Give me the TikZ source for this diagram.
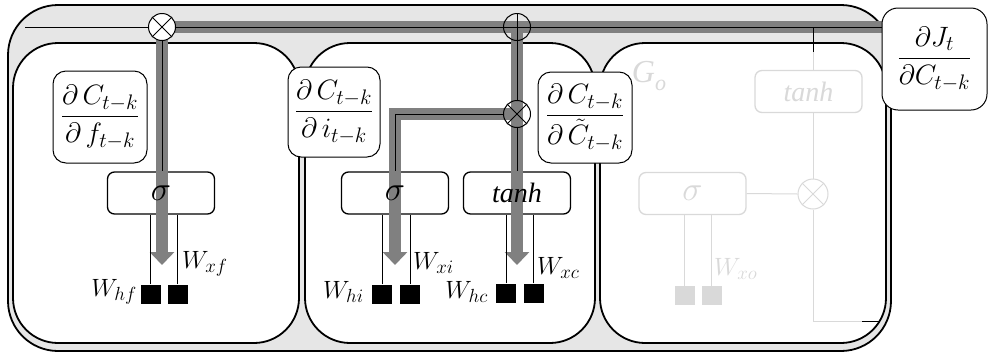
\RequirePackage{fix-cm}
\documentclass[tikz,border=0pt]{standalone}
\usepackage{fontspec}
\usepackage{amsmath}
\newfontfamily\timesfont{Liberation Serif}[ItalicFont={Liberation Serif Italic}]
\usetikzlibrary{arrows.meta}
\definecolor{bggray}{HTML}{E6E6E6}
\definecolor{bandgray}{HTML}{808080}
\definecolor{fadegray}{HTML}{D9D9D9}
\DeclareMathSizes{28}{28}{21}{16}
\DeclareMathSizes{25}{25}{19}{14}
\DeclareMathSizes{34}{34}{25}{18}
\begin{document}
\begin{tikzpicture}[x=1pt,y=-1pt,
  cell/.style={draw, fill=white, line width=1.8pt, rounded corners=45pt},
  fbox/.style={draw, rounded corners=7pt, line width=1.3pt, minimum width=107pt, minimum height=42pt, inner sep=0pt, fill=white},
  op/.style={circle, draw, line width=1pt, minimum size=27pt, inner sep=0pt},
  lblbox/.style={draw, rounded corners=13pt, fill=white, line width=1pt, inner sep=0pt, font=\fontsize{28}{32}\selectfont},
  wsq/.style={fill=black, minimum width=20pt, minimum height=19pt, inner sep=0pt},
  band/.style={line width=12pt, draw=bandgray},
  garrow/.style={-{Triangle[width=24pt,length=13pt]}},
  wire/.style={line width=1pt},
  fwire/.style={line width=1pt, draw=fadegray},
  wlab/.style={font=\fontsize{25}{28}\selectfont, inner sep=0pt},
  sig/.style={font=\fontsize{34}{36}\selectfont, inner sep=0pt},
  tnh/.style={font=\timesfont\fontsize{28}{32}\selectfont\itshape, inner sep=0pt}
]
\useasboundingbox (0,0) rectangle (988,354);
% outer cell
\draw[line width=1.8pt, fill=bggray, rounded corners=50pt] (8,5) rectangle (891,351);
% gate boxes
\draw[cell] (13,43) rectangle (299,343);
\draw[cell] (305,43) rectangle (595,343);
\draw[cell] (600,43) rectangle (886,343);
% function boxes
\node[fbox] (s1) at (161,193) {};
\node[fbox] (s2) at (395,193) {};
\node[fbox] (t2) at (517,193) {};
% operator positions
\coordinate (pf) at (162,27);
\coordinate (pp) at (517,27);
\coordinate (pm) at (517,114);
\coordinate (cl) at (25,27);
\coordinate (cr) at (882,27);
% gradient bands
\draw[band] (175,27) -- (cr);
\draw[band,garrow] (162,34) -- (162,265);
\draw[band,garrow] (pp) -- (517,265);
\draw[band,garrow,line join=miter] (pm) -- (395,114) -- (395,265);
% cell state wire
\draw[wire] (cl) -- (cr);
% operators
\node[op, fill=white] (fm) at (pf) {};
\draw[line width=1pt] (fm.north east) -- (fm.south west) (fm.north west) -- (fm.south east);
\node[op] (ap) at (pp) {};
\draw[line width=1pt] (ap.north) -- (ap.south) (ap.west) -- (ap.east);
\node[op] (im) at (pm) {};
\draw[line width=1pt] (im.north east) -- (im.south west) (im.north west) -- (im.south east);
% wires
\draw[wire] (fm.south) -- (fm.south |- s1.north);
\draw[wire] (ap.south) -- (im.north);
\draw[wire] (im.south) -- (im.south |- t2.north);
\draw[wire] (im.west) -| (s2.north);
% function labels
\node[sig] (s1t) at (s1) {$\sigma$};
\node[sig] (s2t) at (s2) {$\sigma$};
\node[tnh] (t2t) at (t2) {tanh};
% weights
\node[wsq] (qhf) at (150.5,294) {};
\node[wsq] (qxf) at (177.5,294) {};
\node[wsq] (qhi) at (382,294) {};
\node[wsq] (qxi) at (410,294) {};
\node[wsq] (qhc) at (506,293) {};
\node[wsq] (qxc) at (533.5,293) {};
\draw[wire] (qhf.north) -- (qhf.north |- s1.south);
\draw[wire] (qxf.north) -- (qxf.north |- s1.south);
\draw[wire] (qhi.north) -- (qhi.north |- s2.south);
\draw[wire] (qxi.north) -- (qxi.north |- s2.south);
\draw[wire] (qhc.north) -- (qhc.north |- t2.south);
\draw[wire] (qxc.north) -- (qxc.north |- t2.south);
\node[wlab, anchor=east] (whf) at (137,292) {$W_{hf}$};
\node[wlab, anchor=west] (wxf) at (182,264) {$W_{xf}$};
\node[wlab, anchor=east] (whi) at (364,292) {$W_{hi}$};
\node[wlab, anchor=west] (wxi) at (413,263) {$W_{xi}$};
\node[wlab, anchor=east] (whc) at (488,292) {$W_{hc}$};
\node[wlab, anchor=west] (wxc) at (537,268) {$W_{xc}$};
% output gate (faded)
\node[fbox, draw=fadegray] (s3) at (692.5,193.5) {};
\node[fbox, draw=fadegray] (t3) at (808.5,91.5) {};
\node[sig, text=fadegray] (s3t) at (s3) {$\sigma$};
\node[tnh, text=fadegray] (t3t) at (t3) {tanh};
\node[op, draw=fadegray, minimum size=30pt] (om) at (813,194) {};
\draw[line width=1pt, fadegray] (om.north east) -- (om.south west) (om.north west) -- (om.south east);
\coordinate (ot) at (813,27);
\coordinate (ob) at (813,52);
\coordinate (oc) at (813,321);
\coordinate (od) at (862,321);
\coordinate (oe) at (880,321);
\draw[wire] (ot) -- (ob);
\draw[fwire] (ob) -- (ob |- t3.north);
\draw[fwire] (om.north |- t3.south) -- (om.north);
\draw[fwire] (om.south) -- (oc) -- (od);
\draw[wire] (od) -- (oe);
\draw[fwire] (s3.east) -- (om.west);
\node[wsq, fill=fadegray] (qho) at (684.5,295.5) {};
\node[wsq, fill=fadegray] (qxo) at (711.5,295.5) {};
\draw[fwire] (qho.north) -- (qho.north |- s3.south);
\draw[fwire] (qxo.north) -- (qxo.north |- s3.south);
\node[wlab, anchor=west, text=fadegray] (wxo) at (714,269) {$W_{xo}$};
\node[font=\timesfont\fontsize{32}{36}\selectfont\itshape, text=fadegray, inner sep=0pt] (go) at (649,76) {G\raisebox{-0.25em}{\fontsize{22}{26}\selectfont o}};
% gradient labels
\node[lblbox, minimum width=94pt, minimum height=92pt] (lf) at (100,117) {$\displaystyle\frac{\partial\,C_{t-k}}{\partial\,f_{t-k}}$};
\node[lblbox, minimum width=92pt, minimum height=90pt] (li) at (334,112) {$\displaystyle\frac{\partial\,C_{t-k}}{\partial\,i_{t-k}}$};
\node[lblbox, minimum width=94pt, minimum height=91pt] (lc) at (585,117.5) {$\displaystyle\frac{\partial\,C_{t-k}}{\partial\,\tilde{C}_{t-k}}$};
\node[lblbox, minimum width=105pt, minimum height=102pt, rounded corners=16pt] (lj) at (934.5,59) {$\displaystyle\frac{\partial J_t}{\partial C_{t-k}}$};
\end{tikzpicture}
\end{document}
